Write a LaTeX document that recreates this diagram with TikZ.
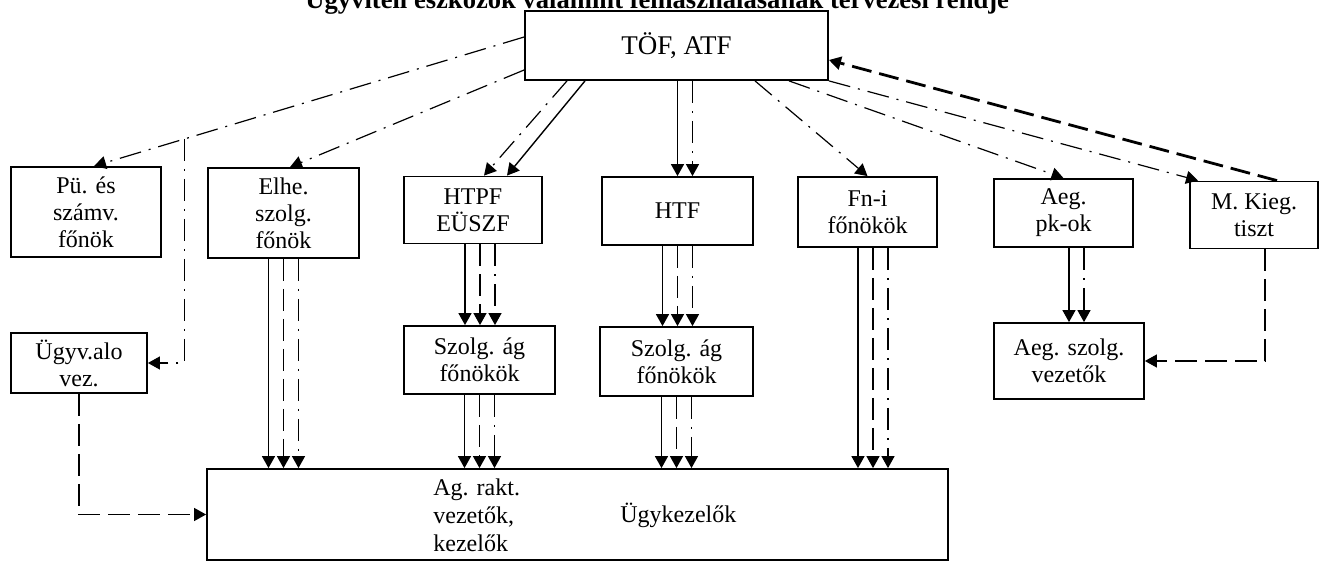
\documentclass[tikz,border=0pt]{standalone}
\usepackage{fontspec}
\setmainfont{Liberation Serif}
\usetikzlibrary{arrows.meta}
\tikzset{
  >={Triangle[length=6pt,width=6.5pt]},
  box/.style={draw,line width=0.9pt,align=center,inner sep=2pt,
    font=\fontsize{12}{13.5}\selectfont},
  lbl/.style={inner sep=0pt,align=left,font=\fontsize{12}{14}\selectfont},
  full/.style={->,line width=0.7pt},
  dashln/.style={->,line width=0.6pt,dash pattern=on 11pt off 4pt},
  dotln/.style={->,line width=0.6pt,dash pattern=on 11pt off 4pt on 1pt off 4pt},
  back/.style={->,line width=1.4pt,dash pattern=on 10pt off 4pt},
}
\begin{document}
\begin{tikzpicture}[x=0.5pt,y=-0.5pt]
  \useasboundingbox (0,0) rectangle (1333,562);
  % title, cut at the top edge
  \node[anchor=base west,inner sep=0pt,font=\fontsize{13.3}{15}\selectfont\bfseries]
    (cim) at (305,9) {Ügyviteli eszközök valamint felhasználásának tervezési rendje};
  % boxes
  \node[box,minimum width=151.5pt,minimum height=34.5pt,font=\fontsize{13.5}{15}\selectfont]
    (tof) at (676.5,45.5) {TÖF, ATF};
  \node[box,minimum width=75pt,minimum height=45pt] (pu) at (86,212) {Pü. és\\számv.\\főnök};
  \node[box,minimum width=75.5pt,minimum height=45pt] (elhe) at (283.5,213) {Elhe.\\szolg.\\főnök};
  \node[box,minimum width=69pt,minimum height=33.5pt] (htpf) at (473,210) {HTPF\\EÜSZF};
  \node[box,minimum width=75.5pt,minimum height=34pt] (htf) at (677.5,211) {HTF};
  \node[box,minimum width=69.5pt,minimum height=35pt] (fni) at (867.5,212) {Fn-i\\főnökök};
  \node[box,minimum width=69.5pt,minimum height=34pt] (aegpk) at (1063.5,213) {Aeg.\\pk-ok};
  \node[box,minimum width=64pt,minimum height=33.5pt] (mkieg) at (1254,215) {M. Kieg.\\tiszt};
  \node[box,minimum width=68pt,minimum height=30pt] (ugyv) at (79,363) {Ügyv.alo\\vez.};
  \node[box,minimum width=75.5pt,minimum height=34pt] (szolg1) at (479.5,360) {Szolg. ág\\főnökök};
  \node[box,minimum width=76.5pt,minimum height=34.5pt] (szolg2) at (676.5,361.5) {Szolg. ág\\főnökök};
  \node[box,minimum width=75pt,minimum height=38pt] (aegsz) at (1069,361) {Aeg. szolg.\\vezetők};
  \node[box,minimum width=370.5pt,minimum height=45.5pt] (ugyk) at (577.5,514.5) {};
  \node[lbl,anchor=west] (agrakt) at (433,515) {Ag. rakt.\\vezetők,\\kezelők};
  \node[lbl,anchor=west] (ugyktxt) at (620,515) {Ügykezelők};
  % from TÖF, ATF
  \draw[dotln] ([yshift=4.25pt]tof.west) -- coordinate[pos=0.79] (bend) ([xshift=4pt]pu.north);
  \draw[dotln] (bend) |- (ugyv.east);
  \draw[dotln] ([yshift=-12.25pt]tof.west) -- ([xshift=3.25pt]elhe.north);
  \draw[full] ([xshift=-45.75pt]tof.south) -- ([xshift=17pt]htpf.north);
  \draw[dotln] ([xshift=-54.75pt]tof.south) -- ([xshift=5.5pt]htpf.north);
  \draw[full] (htf.north |- tof.south) -- (htf.north);
  \draw[dotln] ([xshift=7.5pt]htf.north |- tof.south) -- ([xshift=7.5pt]htf.north);
  \draw[dotln] ([xshift=39.25pt]tof.south) -- (fni.north);
  \draw[dotln] ([xshift=56.25pt]tof.south) -- (aegpk.north);
  \draw[dotln] (tof.south east) -- ([xshift=4.5pt]mkieg.north west);
  \draw[back] ([xshift=11.5pt]mkieg.north) -- ([yshift=-7.25pt]tof.east);
  % triple arrows downwards
  \foreach \a/\b/\s in {elhe/ugyk/0pt,htpf/szolg1/3.5pt,szolg1/ugyk/0pt,
      htf/szolg2/0pt,szolg2/ugyk/0pt,fni/ugyk/2.75pt}
    \foreach \dx/\st in {-7.5pt/full,0pt/dashln,7.5pt/dotln}
      \draw[\st] ([xshift=\s+\dx]\a.south) -- ([xshift=\s+\dx]\a.south |- \b.north);
  \draw[full] (aegsz.north |- aegpk.south) -- (aegsz.north);
  \draw[dotln] ([xshift=7.5pt]aegsz.north |- aegpk.south) -- ([xshift=7.5pt]aegsz.north);
  % side links
  \draw[dashln] ([xshift=5.5pt]mkieg.south) |- (aegsz.east);
  \draw[dashln] (ugyv.south) |- (ugyk.west);
\end{tikzpicture}
\end{document}
